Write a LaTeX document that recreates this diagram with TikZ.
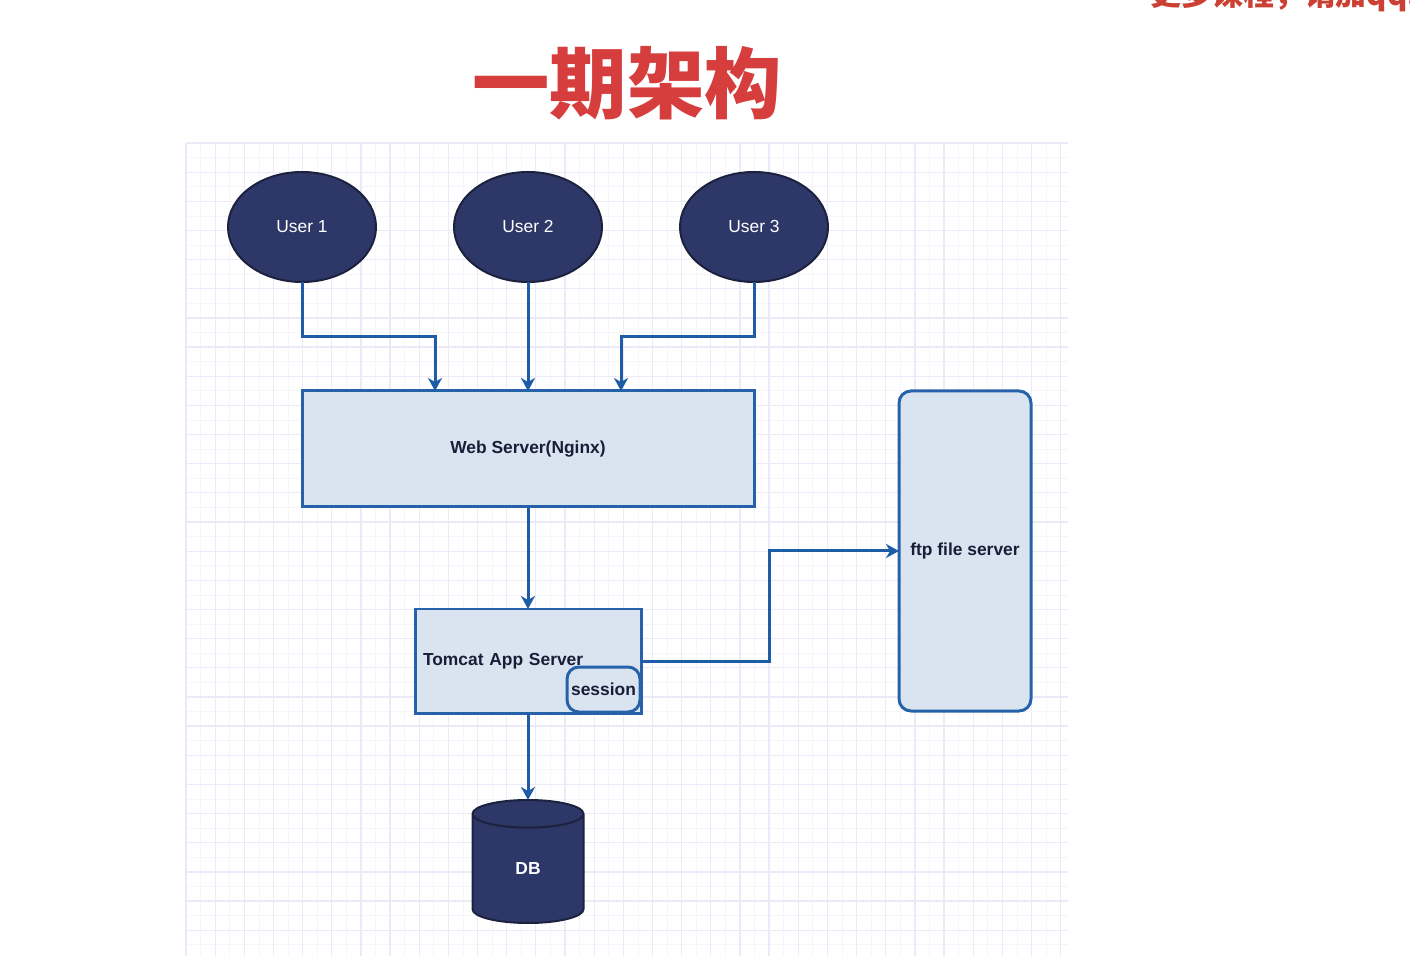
\documentclass[tikz,border=0pt]{standalone}
\usepackage{fontspec}
\setmainfont{Liberation Sans}
\newfontfamily\cjk{Noto Sans CJK SC}
\usetikzlibrary{arrows.meta,positioning,shapes.geometric}
\definecolor{navy}{RGB}{46,56,104}
\definecolor{navyline}{RGB}{28,33,62}
\definecolor{boxfill}{RGB}{218,228,241}
\definecolor{boxline}{RGB}{38,98,170}
\definecolor{arrowblue}{RGB}{30,92,168}
\definecolor{labeltext}{RGB}{24,30,56}
\definecolor{titlered}{RGB}{214,62,62}
\definecolor{wmred}{RGB}{204,64,52}
\definecolor{gridmajor}{RGB}{236,234,248}
\definecolor{gridminor}{RGB}{246,245,252}
\newcommand{\diagfont}{\fontsize{9.9pt}{12pt}\selectfont}
\tikzset{
  >={Stealth[length=0.26cm,width=0.28cm,inset=0.08cm]},
  line/.style     = {->, line width=0.06cm, draw=arrowblue},
  user/.style     = {ellipse, draw=navyline, line width=0.04cm, fill=navy, text=white, font=\diagfont, minimum width=2.96cm, minimum height=2.2cm, inner sep=0pt, outer sep=0pt},
  server/.style   = {rectangle, draw=boxline, line width=0.06cm, fill=boxfill, text=labeltext, font=\diagfont\bfseries, inner sep=0pt, outer sep=0pt},
  roundbox/.style = {server, rounded corners=0.24cm},
  store/.style    = {cylinder, shape border rotate=90, aspect=1.1, draw=navyline, line width=0.04cm, fill=navy, text=white, font=\diagfont\bfseries, minimum width=2.22cm, minimum height=2.46cm, inner sep=0pt, outer sep=0pt}
}
\begin{document}
\begin{tikzpicture}[node distance=1.5cm]
\useasboundingbox (0,0) rectangle (28.2,-19.12);

% Grid
\begin{scope}[shift={(3.72,-2.86)}]
\draw[gridminor, line width=0.015cm, step=0.29155cm] (0,-16.26) grid (17.64,0);
\draw[gridmajor, line width=0.025cm, step=0.5831cm] (0,-16.26) grid (17.64,0);
\end{scope}

% Titles
\node (title) [text=titlered, font=\cjk\bfseries\fontsize{44pt}{50pt}\selectfont] at (12.54,-1.66) {一期架构};
\node (qq) [anchor=base west, inner sep=0pt, text=wmred, font=\cjk\bfseries\fontsize{17.6pt}{20pt}\selectfont] at (23.0,-0.12) {更多课程，请加qq:};

% Users
\node (u1) [user] at (6.04,-4.54) {User 1};
\node (u2) [user, right=1.56cm of u1] {User 2};
\node (u3) [user, right=1.56cm of u2] {User 3};

% Servers
\node (web) [server, below=2.18cm of u2, minimum width=9.04cm, minimum height=2.32cm] {Web Server(Nginx)};
\node (tomcat) [server, below=2.04cm of web, minimum width=4.52cm, minimum height=2.08cm, text width=4.2cm, align=left, inner xsep=0.16cm] {Tomcat App Server};
\node (session) [roundbox, minimum width=1.46cm, minimum height=0.9cm, anchor=south east] at ([shift={(-0.02cm,0.02cm)}]tomcat.south east) {session};
\node (ftp) [roundbox, minimum width=2.64cm, minimum height=6.4cm, anchor=north west] at ([xshift=2.9cm]web.north east) {ftp file server};

% Storage
\node (db) [store, below=1.74cm of tomcat] {DB};

% Connections
\draw[line] (u1.south) -- ++(0,-1.1) -| ([xshift=-1.86cm]web.north);
\draw[line] (u2.south) -- (u2.south |- web.north);
\draw[line] (u3.south) -- ++(0,-1.1) -| ([xshift=1.86cm]web.north);
\draw[line] (web) -- (tomcat);
\draw[line] (tomcat.east) -- ++(2.56,0) |- (ftp.west);
\draw[line] (tomcat) -- (db);

\end{tikzpicture}
\end{document}
